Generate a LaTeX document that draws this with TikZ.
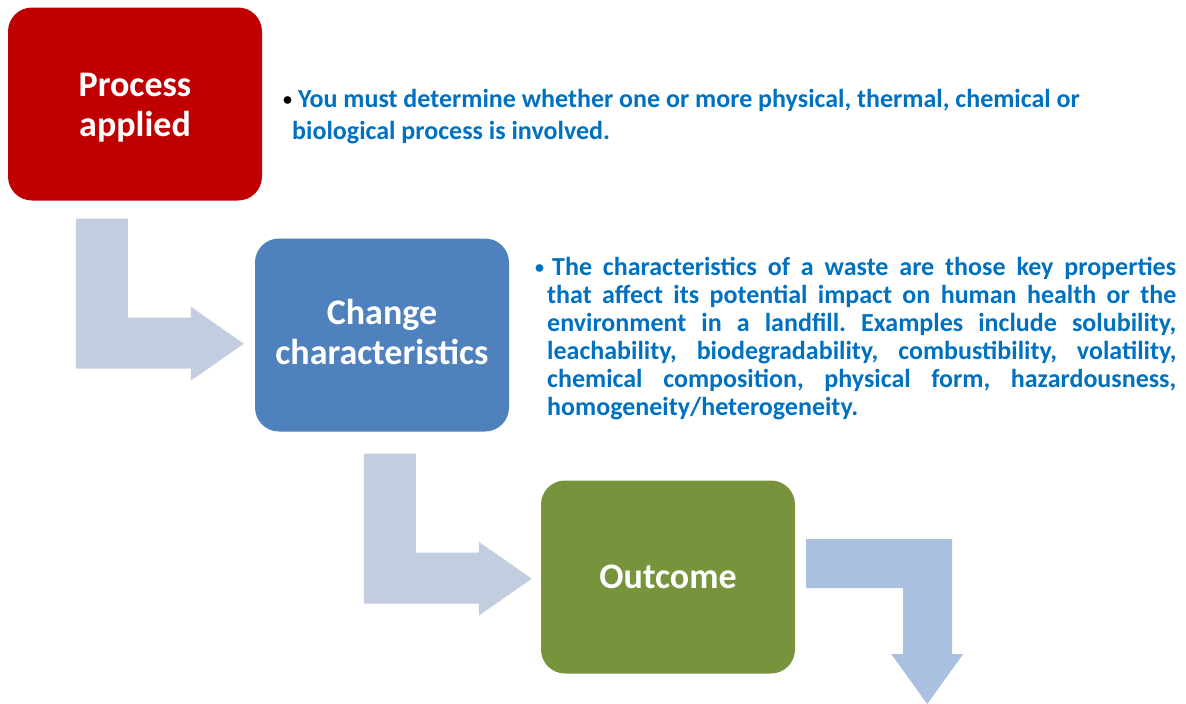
\documentclass[tikz,border=0pt]{standalone}
\usepackage{fontspec}
\setmainfont{Carlito}
\definecolor{procred}{HTML}{C00000}
\definecolor{changeblue}{HTML}{4F81BD}
\definecolor{outgreen}{HTML}{77933C}
\definecolor{flowgrey}{HTML}{C3CDE0}
\definecolor{flowblue}{HTML}{A9C0E0}
\definecolor{notecolor}{HTML}{0070C0}
\newcommand{\notebullet}{\raisebox{1.5pt}{\fontsize{18}{18}\selectfont\textbullet}}
\tikzset{
	stage/.style={
		rectangle,
		rounded corners=24pt,
		minimum width=254pt,
		minimum height=193pt,
		text=white,
		align=center,
		font={\bfseries\fontsize{36}{40}\selectfont}
	},
	note/.style={
		anchor=north west,
		inner sep=0pt,
		text=notecolor,
		font={\bfseries\fontsize{26}{32}\selectfont}
	},
	flow/.style={
		fill=flowgrey
	},
}
\begin{document}
\begin{tikzpicture}[x=1pt,y=-1pt]
	\useasboundingbox (0,0) rectangle (1186,704);
	% the three stages
	\node [stage,fill=procred] (proc) at (135,104) {\rule{0pt}{31pt}Process\\applied};
	\node [stage,fill=changeblue] (change) at (382,335) {Change\\characteristics\rule[-6pt]{0pt}{6pt}};
	\node [stage,fill=outgreen] (outcome) at (668,577) {Outcome};
	
	% notes beside the stages
	\node [note] (howto) at (283,89)
		{\parbox[t]{880pt}{\raggedright\frenchspacing\leftskip=9pt\hspace*{-9pt}{\color{black}\notebullet}\hspace{6pt}You must determine whether one or more physical, thermal, chemical or\\biological process is involved.}};
	\node [note,font={\bfseries\fontsize{26}{28}\selectfont}] (traits) at (535,257)
		{\parbox[t]{641pt}{\frenchspacing\hyphenpenalty=10000\parindent=0pt\leftskip=12pt\hspace*{-12pt}\notebullet\hspace{8pt}The characteristics of a waste are those key properties\linebreak
		that affect its potential impact on human health or the\linebreak
		environment in a landfill. Examples include solubility,\linebreak
		leachability, biodegradability, combustibility, volatility,\linebreak
		chemical composition, physical form, hazardousness,\linebreak
		homogeneity/heterogeneity.}};
	
	% bent arrows
	\fill [flow] ([xshift=68pt,yshift=-18pt]proc.south west) -- ++(52,0) -- ++(0,99) -- ++(63,0) -- ++(0,-11)
		-- ++(53,37) -- ++(-53,37) -- ++(0,-12) -- ++(-115,0) -- cycle;
	\fill [flow] ([xshift=109pt,yshift=-22pt]change.south west) -- ++(52,0) -- ++(0,99) -- ++(63,0) -- ++(0,-11)
		-- ++(53,37) -- ++(-53,37) -- ++(0,-12) -- ++(-115,0) -- cycle;
	\fill [flow,fill=flowblue] ([xshift=11pt,yshift=38pt]outcome.east) -- ++(146,0) -- ++(0,115) -- ++(11,0)
		-- ++(-36,50) -- ++(-36,-50) -- ++(12,0) -- ++(0,-66) -- ++(-97,0) -- cycle;
\end{tikzpicture}
\end{document}
